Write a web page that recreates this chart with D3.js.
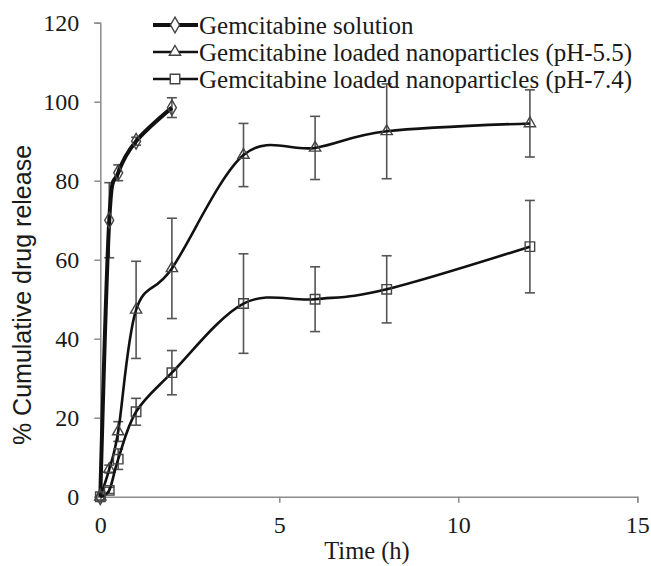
<!DOCTYPE html>
<html>
<head>
<meta charset="utf-8">
<script src="https://cdn.jsdelivr.net/npm/d3@7"></script>
<style>
  body { margin: 0; background: #fff; }
  svg { display: block; }
  .tick text { font-family: "Liberation Serif", "Times New Roman", serif; font-size: 24px; fill: #1a1a1a; }
</style>
</head>
<body>
<div id="chart"></div>
<script>
// values
const solutionTime = [0, 0.25, 0.5, 1, 2];
const solution     = [0, 70, 82, 90, 98.5];
const solutionErr  = [0, 9.5, 2, 1, 2.5];

const npTime = [0, 0.25, 0.5, 1, 2, 4, 6, 8, 12];
const ph55    = [0, 7, 16.5, 47.3, 57.8, 86.5, 88.3, 92.5, 94.5];
const ph55Err = [0, 1, 2.5, 12.3, 12.7, 8, 8, 12, 8.5];
const ph74    = [0, 1.6, 9.5, 21.5, 31.4, 48.9, 50, 52.5, 63.3];
const ph74Err = [0, 0.8, 2.6, 3.4, 5.6, 12.6, 8.2, 8.5, 11.7];

const xTicks = [0, 5, 10, 15];
const yTicks = [0, 20, 40, 60, 80, 100, 120];

const seriesNames = [
  "Gemcitabine solution",
  "Gemcitabine loaded nanoparticles (pH-5.5)",
  "Gemcitabine loaded nanoparticles (pH-7.4)"
];

const width = 651, height = 566;
const plotLeft = 100.3, plotRight = 637.3, plotTop = 22.7, plotBottom = 496.7;

const svg = d3.select("#chart").append("svg")
  .attr("width", width).attr("height", height);

const x = d3.scaleLinear().domain([0, 15]).range([plotLeft, plotRight]);
const y = d3.scaleLinear().domain([0, 120]).range([plotBottom, plotTop]);

// axes
svg.append("g").attr("transform", "translate(0," + plotBottom + ")")
  .call(d3.axisBottom(x).tickValues(xTicks).tickSize(6).tickPadding(13));
svg.append("g").attr("transform", "translate(" + plotLeft + ",0)")
  .call(d3.axisLeft(y).tickValues(yTicks).tickSize(6).tickPadding(15));
svg.selectAll(".domain, .tick line").attr("stroke", "#8c8c8c").attr("stroke-width", 1.5);

svg.append("text")
  .attr("x", 367).attr("y", 559)
  .attr("text-anchor", "middle")
  .style("font-family", "'Liberation Serif', 'Times New Roman', serif")
  .style("font-size", "24.5px").style("fill", "#1a1a1a")
  .text("Time (h)");

svg.append("text")
  .attr("transform", "translate(31,295) rotate(-90)")
  .attr("text-anchor", "middle")
  .style("font-family", "'Liberation Sans', Arial, sans-serif")
  .style("font-size", "25px").style("fill", "#1a1a1a")
  .text("% Cumulative drug release");

const curve = d3.curveCardinal.tension(0);
const line = d3.line().x(d => x(d[0])).y(d => y(d[1])).curve(curve);

const series = [
  { t: solutionTime, v: solution, e: solutionErr, shape: d3.symbolDiamond, size: 70, lw: 4 },
  { t: npTime, v: ph55, e: ph55Err, shape: d3.symbolTriangle, size: 55, lw: 2.6 },
  { t: npTime, v: ph74, e: ph74Err, shape: d3.symbolSquare, size: 90, lw: 2.6 }
];

series.forEach(s => {
  const pts = s.t.map((t, i) => [t, s.v[i], s.e[i]]);

  // error bars
  const eb = svg.append("g").attr("stroke", "#555").attr("stroke-width", 1.6);
  pts.filter(p => p[2] > 0).forEach(p => {
    eb.append("line").attr("x1", x(p[0])).attr("x2", x(p[0]))
      .attr("y1", y(p[1] + p[2])).attr("y2", y(p[1] - p[2]));
    [p[1] + p[2], p[1] - p[2]].forEach(v => {
      eb.append("line").attr("x1", x(p[0]) - 5).attr("x2", x(p[0]) + 5)
        .attr("y1", y(v)).attr("y2", y(v));
    });
  });

  svg.append("path").datum(pts).attr("d", line)
    .attr("fill", "none").attr("stroke", "#111").attr("stroke-width", s.lw);

  svg.append("g").selectAll("path").data(pts).join("path")
    .attr("transform", d => "translate(" + x(d[0]) + "," + y(d[1]) + ")")
    .attr("d", d3.symbol().type(s.shape).size(s.size))
    .attr("fill", "none").attr("stroke", "#444").attr("stroke-width", 1.4);
});

// legend
const legendRows = [25, 52, 79];
series.forEach((s, i) => {
  const g = svg.append("g").attr("transform", "translate(0," + legendRows[i] + ")");
  g.append("line").attr("x1", 153).attr("x2", 198).attr("y1", 0).attr("y2", 0)
    .attr("stroke", "#111").attr("stroke-width", s.lw);
  g.append("path").attr("transform", "translate(175,0)")
    .attr("d", d3.symbol().type(s.shape).size(s.size))
    .attr("fill", "#fff").attr("stroke", "#444").attr("stroke-width", 1.4);
  g.append("text").attr("x", 199).attr("y", 0).attr("dy", "0.35em")
    .style("font-family", "'Liberation Serif', 'Times New Roman', serif")
    .style("font-size", "25px").style("fill", "#1a1a1a")
    .text(seriesNames[i]);
});
</script>
</body>
</html>
